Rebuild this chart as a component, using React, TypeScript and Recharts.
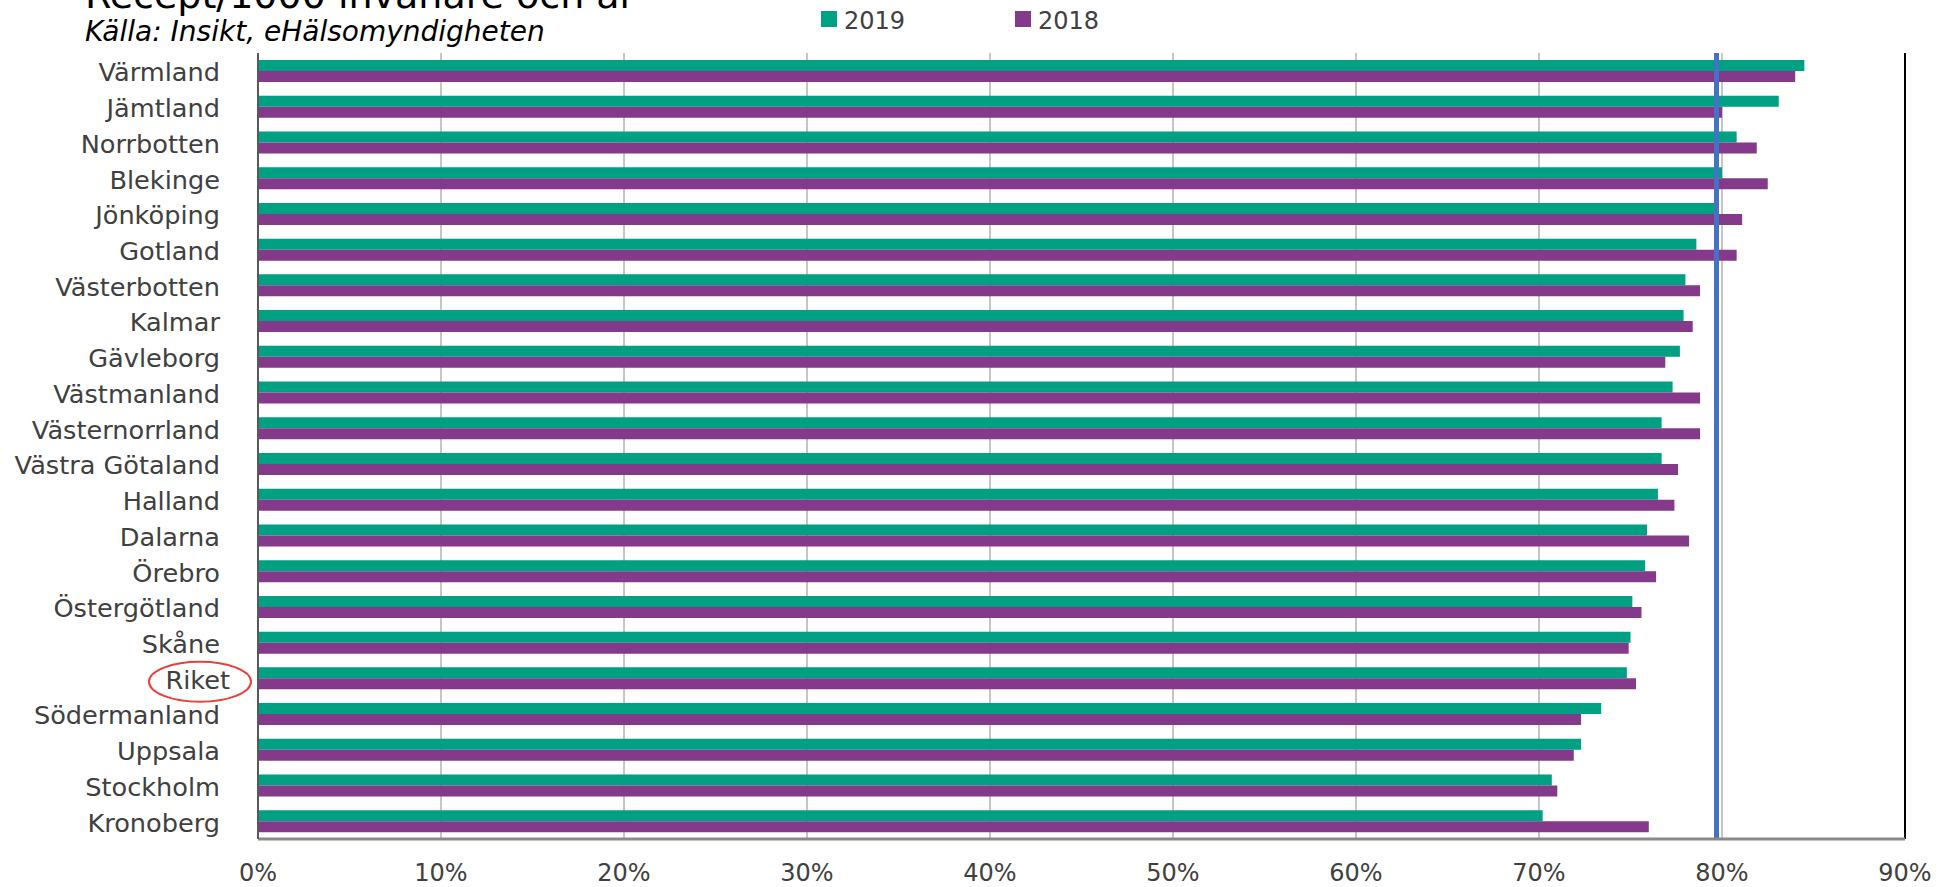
import { Bar, BarChart, CartesianGrid, ReferenceLine, XAxis, YAxis } from "recharts";

const categories = [
  "Värmland",
  "Jämtland",
  "Norrbotten",
  "Blekinge",
  "Jönköping",
  "Gotland",
  "Västerbotten",
  "Kalmar",
  "Gävleborg",
  "Västmanland",
  "Västernorrland",
  "Västra Götaland",
  "Halland",
  "Dalarna",
  "Örebro",
  "Östergötland",
  "Skåne",
  "Riket",
  "Södermanland",
  "Uppsala",
  "Stockholm",
  "Kronoberg"
];

const values2019 = [
  84.5, 83.1, 80.8, 80.0, 79.6, 78.6, 78.0, 77.9, 77.7, 77.3, 76.7, 76.7, 76.5, 75.9, 75.8, 75.1,
  75.0, 74.8, 73.4, 72.3, 70.7, 70.2
];

const values2018 = [
  84.0, 80.0, 81.9, 82.5, 81.1, 80.8, 78.8, 78.4, 76.9, 78.8, 78.8, 77.6, 77.4, 78.2, 76.4, 75.6,
  74.9, 75.3, 72.3, 71.9, 71.0, 76.0
];

const seriesNames = ["2019", "2018"];
const xTicks = [0, 10, 20, 30, 40, 50, 60, 70, 80, 90];
const targetLine = 79.7;

const title = "Recept/1000 invånare och år";
const source = "Källa: Insikt, eHälsomyndigheten";

const data = categories.map((name, i) => ({
  name,
  v2019: values2019[i],
  v2018: values2018[i]
}));

const FONT = "'DejaVu Sans', sans-serif";
const GREEN = "#00A082";
const PURPLE = "#84398B";
const PLOT_LEFT = 258;
const PLOT_BOTTOM = 839;

function CategoryTick({ y, payload }: any) {
  const isRiket = payload.value === "Riket";
  const tx = isRiket ? PLOT_LEFT - 28 : PLOT_LEFT - 38;
  return (
    <g>
      {isRiket && (
        <ellipse cx={200} cy={y + 3.5} rx={51} ry={20} fill="none" stroke="#E8403A" strokeWidth={2} />
      )}
      <text x={tx} y={y} dy={10.5} textAnchor="end" fontFamily={FONT} fontSize={25.6} fill="#404040">
        {payload.value}
      </text>
    </g>
  );
}

function PercentTick({ x, payload }: any) {
  return (
    <text x={x} y={PLOT_BOTTOM + 42} textAnchor="middle" fontFamily={FONT} fontSize={24} fill="#404040">
      {payload.value}%
    </text>
  );
}

export default function App() {
  const legendX = [821, 1015];
  const legendColors = [GREEN, PURPLE];
  return (
    <div style={{ position: "absolute", left: 0, top: 0, width: 1949, height: 887, overflow: "hidden", background: "#fff" }}>
      <BarChart
        width={1949}
        height={887}
        layout="vertical"
        data={data}
        margin={{ top: 53, right: 44, bottom: 0, left: 0 }}
        barGap={0}
      >
        <CartesianGrid horizontal={false} stroke="#8c8c8c" />
        <XAxis
          type="number"
          domain={[0, 90]}
          ticks={xTicks}
          height={48}
          tickLine={false}
          axisLine={{ stroke: "#8a8a8a", strokeWidth: 3 }}
          tick={<PercentTick />}
        />
        <XAxis
          xAxisId="top"
          orientation="top"
          type="number"
          domain={[0, 90]}
          height={0}
          tick={false}
          tickLine={false}
          axisLine={{ stroke: "#000", strokeWidth: 2 }}
        />
        <YAxis
          type="category"
          dataKey="name"
          width={PLOT_LEFT}
          tickLine={false}
          axisLine={{ stroke: "#595959", strokeWidth: 2 }}
          tick={<CategoryTick />}
          interval={0}
        />
        <Bar dataKey="v2019" name={seriesNames[0]} fill={GREEN} barSize={11} isAnimationActive={false} />
        <Bar dataKey="v2018" name={seriesNames[1]} fill={PURPLE} barSize={11} isAnimationActive={false} />
        <ReferenceLine x={90} stroke="#000" strokeWidth={2} />
        <ReferenceLine x={targetLine} stroke="#4472C4" strokeWidth={5} />
      </BarChart>
      <svg
        width={1949}
        height={60}
        style={{ position: "absolute", left: 0, top: 0, pointerEvents: "none" }}
      >
        <text x={85} y={7.5} fontFamily={FONT} fontSize={38} fill="#000">
          {title}
        </text>
        <text x={85} y={41} fontFamily={FONT} fontSize={28} fontStyle="italic" fill="#000">
          {source}
        </text>
        {seriesNames.map((name, i) => (
          <g key={name}>
            <rect x={legendX[i]} y={11} width={16} height={16} fill={legendColors[i]} />
            <text x={legendX[i] + 23} y={29} fontFamily={FONT} fontSize={24} fill="#404040">
              {name}
            </text>
          </g>
        ))}
      </svg>
    </div>
  );
}
